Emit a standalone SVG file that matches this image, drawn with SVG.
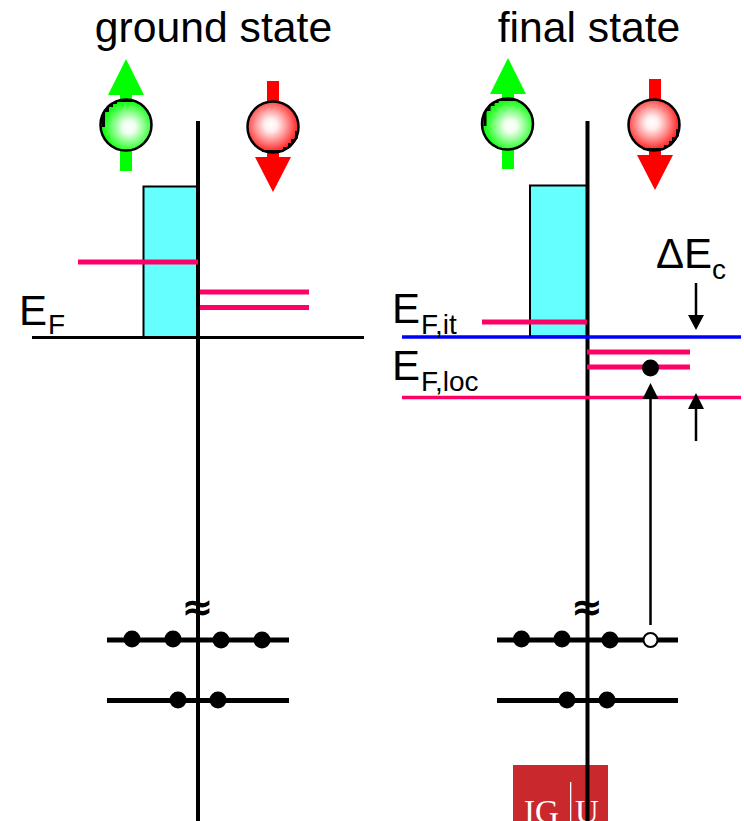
<svg xmlns="http://www.w3.org/2000/svg" width="744" height="821" viewBox="0 0 744 821">
<style>
text{font-family:"Liberation Sans",Arial,sans-serif;fill:#000}
.title{font-size:42.700px;text-anchor:middle}
.big{font-size:42px}
.sub{font-size:28px}
.axis{stroke:#000;stroke-width:4;fill:none}
.level{stroke:#000;stroke-width:5;fill:none}
.pink{stroke:#ff0066;stroke-width:5;fill:none}
.thin{stroke:#ff0066;stroke-width:3.500;fill:none}
.blue{stroke:#0000ff;stroke-width:3.500;fill:none}
.base{stroke:#000;stroke-width:3;fill:none}
.arr{stroke:#000;stroke-width:2.500;fill:none}
.dos{fill:#66ffff;stroke:#000;stroke-width:2}
.g{fill:#00ff00}.r{fill:#ff0000}
.ballg{fill:url(#gg);stroke:#000;stroke-width:2.500}
.ballr{fill:url(#gr);stroke:#000;stroke-width:2.500}
.e{fill:#000}
.sym{font-family:"DejaVu Sans",sans-serif;font-size:38px;font-weight:bold;text-anchor:middle}
</style>
<defs>
<radialGradient id="gg" gradientUnits="objectBoundingBox" cx="0.56" cy="0.54" r="0.5"><stop offset="0" stop-color="#fff"/><stop offset="0.25" stop-color="#eeffee"/><stop offset="0.6" stop-color="#88ff88"/><stop offset="1" stop-color="#11ff11"/></radialGradient>
<radialGradient id="gr" gradientUnits="objectBoundingBox" cx="0.46" cy="0.46" r="0.5"><stop offset="0" stop-color="#fff"/><stop offset="0.25" stop-color="#ffeeee"/><stop offset="0.6" stop-color="#ff9999"/><stop offset="1" stop-color="#ff3333"/></radialGradient>
</defs>
<g id="logo">
<rect x="513" y="765" width="95" height="56" fill="#c9282d"/>
<rect x="570" y="782" width="1.300" height="39" fill="#fff"/>
<text x="524" y="823" style="font-family:'Liberation Serif',serif;font-size:33px;fill:#fff">IG</text>
<text x="575" y="823" style="font-family:'Liberation Serif',serif;font-size:33px;fill:#fff">U</text>
</g>
<g id="titles">
<text class="title" x="213.500" y="42">ground state</text>
<text class="title" x="589" y="42">final state</text>
</g>
<g id="left-dos"><rect class="dos" x="143.500" y="186.500" width="54.500" height="151"/></g>
<g id="right-dos"><rect class="dos" x="530" y="185.500" width="57.500" height="151"/></g>
<g id="connectors">
<path class="base" d="M32 337.500H364"/>
<path class="axis" d="M198 121V821"/>
<path class="axis" d="M587.500 121V821"/>
<path class="pink" d="M78 262H198M200 292H309M200 307.500H309"/>
<path class="blue" d="M402 337H741"/>
<path class="pink" d="M482 322H587M587 352H690M587 367H690"/>
<path class="thin" d="M402 397.500H741"/>
<path class="level" d="M107 640H289M107 700.500H289M497 640H678M497 700.500H678"/>
<path class="arr" d="M650.500 625V395M696 283V318M696 406V441"/>
<path class="e" d="M642.500 399H658.500L650.500 383ZM688 315H704L696 330ZM688 409H704L696 393Z"/>
</g>
<g id="spin-up-left">
<path class="g" d="M120 171V95H108L126 59L144 95H132V171Z"/>
<circle class="ballg" cx="126" cy="125" r="25.500"/>
<path class="e" d="M102 127H105V112H109V107H113V104H117V102H135V100H118L108 105L102 113Z"/>
</g>
<g id="spin-down-left">
<path class="r" d="M267 81V157H255L273 192L291 157H279V81Z"/>
<circle class="ballr" cx="273" cy="127" r="25.500"/>
<path class="e" d="M297 127H298V138L290 148L278 152H262V150H283V147H288V143H291V139H295V131H297Z"/>
</g>
<g id="spin-up-right">
<path class="g" d="M502 169V94H490L508 58L526 94H514V169Z"/>
<circle class="ballg" cx="507.500" cy="124" r="25.500"/>
<path class="e" d="M483.500 126H486.500V111H490.500V106H494.500V103H498.500V101H516.500V99H499.500L489.500 104L483.500 112Z"/>
</g>
<g id="spin-down-right">
<path class="r" d="M649 79V155H637L655 190L673 155H661V79Z"/>
<circle class="ballr" cx="654" cy="125" r="25.500"/>
<path class="e" d="M678 125H679V136L671 146L659 150H643V148H664V145H669V141H672V137H676V129H678Z"/>
</g>
<g id="electrons-left">
<circle class="e" cx="132" cy="639" r="8.500"/><circle class="e" cx="173" cy="639" r="8.500"/><circle class="e" cx="221" cy="640" r="8.500"/><circle class="e" cx="262" cy="640" r="8.500"/>
<circle class="e" cx="178" cy="700" r="8.500"/><circle class="e" cx="218" cy="700" r="8.500"/>
</g>
<g id="electrons-right">
<circle class="e" cx="521.500" cy="639" r="8.500"/><circle class="e" cx="562" cy="639" r="8.500"/><circle class="e" cx="610" cy="640" r="8.500"/>
<circle cx="650.500" cy="640" r="7" fill="#fff" stroke="#000" stroke-width="2"/>
<circle class="e" cx="567" cy="700" r="8.500"/><circle class="e" cx="607" cy="700" r="8.500"/>
<circle class="e" cx="650.500" cy="368" r="8.500"/>
</g>
<g id="breaks">
<text class="sym" x="197.500" y="620">≈</text>
<text class="sym" x="587" y="620">≈</text>
</g>
<g id="label-ef"><text class="big" x="19" y="325">E</text><text class="sub" x="48" y="334">F</text></g>
<g id="label-efit"><text class="big" x="392" y="323">E</text><text class="sub" x="421" y="334">F,it</text></g>
<g id="label-efloc"><text class="big" x="392" y="380">E</text><text class="sub" x="421" y="391">F,loc</text></g>
<g id="label-dec"><text class="big" x="656" y="268">ΔE</text><text class="sub" x="712" y="279">c</text></g>
</svg>
